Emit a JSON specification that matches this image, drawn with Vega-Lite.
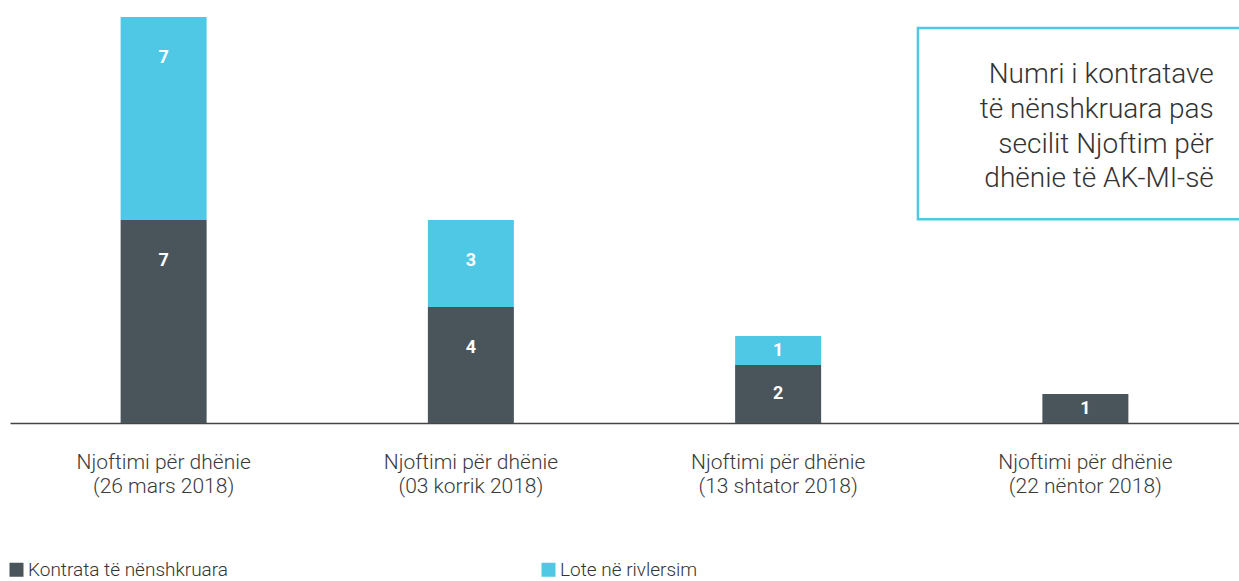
{
  "$schema": "https://vega.github.io/schema/vega-lite/v6.json",
  "width": 1229,
  "height": 406,
  "autosize": {"type": "none"},
  "padding": {"left": 10, "top": 17, "right": 0, "bottom": 158},
  "config": {"view": {"stroke": null}, "font": "Roboto"},
  "datasets": {
    "bars": [
      {"cat": "Njoftimi për dhënie|(26 mars 2018)", "series": "Kontrata të nënshkruara", "value": 7},
      {"cat": "Njoftimi për dhënie|(26 mars 2018)", "series": "Lote në rivlersim", "value": 7},
      {"cat": "Njoftimi për dhënie|(03 korrik 2018)", "series": "Kontrata të nënshkruara", "value": 4},
      {"cat": "Njoftimi për dhënie|(03 korrik 2018)", "series": "Lote në rivlersim", "value": 3},
      {"cat": "Njoftimi për dhënie|(13 shtator 2018)", "series": "Kontrata të nënshkruara", "value": 2},
      {"cat": "Njoftimi për dhënie|(13 shtator 2018)", "series": "Lote në rivlersim", "value": 1},
      {"cat": "Njoftimi për dhënie|(22 nëntor 2018)", "series": "Kontrata të nënshkruara", "value": 1}
    ],
    "box": [{"bx1": 2.955, "bx2": 4.3, "by1": 7.03, "by2": 13.62}],
    "note": [
      {"t": "Numri i kontratave", "tx": 3.918, "ty": 11.72},
      {"t": "të nënshkruara pas", "tx": 3.918, "ty": 10.52},
      {"t": "secilit Njoftim për", "tx": 3.918, "ty": 9.31},
      {"t": "dhënie të AK-MI-së", "tx": 3.918, "ty": 8.14}
    ]
  },
  "layer": [
    {
      "data": {"name": "bars"},
      "transform": [
        {"stack": "value", "groupby": ["cat"], "sort": [{"field": "series", "order": "ascending"}], "as": ["v0", "v1"]}
      ],
      "mark": {"type": "bar", "size": 86},
      "encoding": {
        "x": {
          "field": "cat", "type": "nominal", "sort": null,
          "scale": {"paddingInner": 0, "paddingOuter": 0},
          "axis": {
            "title": null, "labelExpr": "split(datum.label, '|')", "labelAngle": 0,
            "labelFontSize": 21, "labelColor": "#3a3a3a", "labelFontWeight": 300,
            "labelPadding": 28, "labelLineHeight": 24, "ticks": false,
            "domainColor": "#444444", "domainWidth": 1.5, "labelLimit": 0
          }
        },
        "y": {"field": "v1", "type": "quantitative", "scale": {"domain": [0, 14], "nice": false}, "axis": null},
        "y2": {"field": "v0"},
        "color": {
          "field": "series", "type": "nominal",
          "scale": {"domain": ["Kontrata të nënshkruara", "Lote në rivlersim"], "range": ["#4a545b", "#4ec8e4"]},
          "legend": {
            "orient": "none", "legendX": -3, "legendY": 543, "direction": "horizontal",
            "title": null, "symbolType": "square", "symbolSize": 196, "symbolStrokeWidth": 0,
            "labelFontSize": 19, "labelColor": "#333333", "labelFontWeight": 300, "labelLimit": 0,
            "columnPadding": 310, "labelOffset": 2, "symbolOpacity": 1
          }
        }
      }
    },
    {
      "data": {"name": "bars"},
      "transform": [
        {"stack": "value", "groupby": ["cat"], "sort": [{"field": "series", "order": "ascending"}], "as": ["v0", "v1"]},
        {"calculate": "max(datum.v1 - 1.4, (datum.v0 + datum.v1) / 2)", "as": "labelPos"}
      ],
      "mark": {"type": "text", "color": "white", "fontWeight": "bold", "fontSize": 18, "baseline": "middle"},
      "encoding": {
        "x": {"field": "cat", "type": "nominal", "sort": null, "scale": {"paddingInner": 0, "paddingOuter": 0}, "axis": null},
        "y": {"field": "labelPos", "type": "quantitative"},
        "text": {"field": "value"}
      }
    },
    {
      "data": {"name": "box"},
      "mark": {"type": "rect", "fill": "white", "fillOpacity": 0, "stroke": "#4ec8e4", "strokeWidth": 2.5, "clip": true},
      "encoding": {
        "x": {"field": "bx1", "type": "quantitative", "scale": {"domain": [0, 4], "nice": false}, "axis": null},
        "x2": {"field": "bx2"},
        "y": {"field": "by1", "type": "quantitative"},
        "y2": {"field": "by2"}
      }
    },
    {
      "data": {"name": "note"},
      "mark": {"type": "text", "align": "right", "baseline": "alphabetic", "fontSize": 28, "fontWeight": 300, "color": "#333333"},
      "encoding": {
        "x": {"field": "tx", "type": "quantitative", "scale": {"domain": [0, 4], "nice": false}, "axis": null},
        "y": {"field": "ty", "type": "quantitative"},
        "text": {"field": "t"}
      }
    }
  ],
  "resolve": {"scale": {"x": "independent"}}
}
